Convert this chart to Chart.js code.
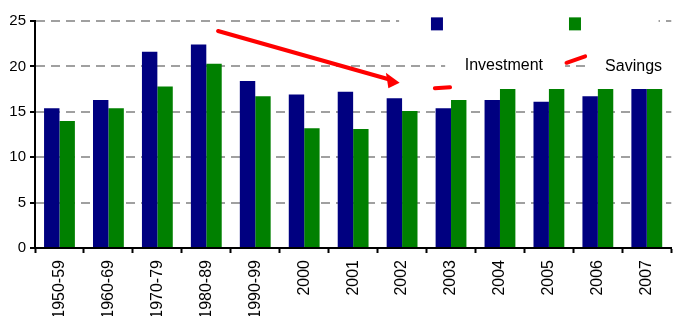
<!DOCTYPE html>
<html>
<head>
<meta charset="utf-8">
<script src="https://cdn.jsdelivr.net/npm/chart.js@4/dist/chart.umd.min.js"></script>
<style>
  html, body { margin: 0; padding: 0; background: #fff; overflow: hidden; }
</style>
</head>
<body>
<canvas id="myChart" width="673" height="316"></canvas>
<script>
var periods = ["1950-59", "1960-69", "1970-79", "1980-89", "1990-99", "2000", "2001", "2002", "2003", "2004", "2005", "2006", "2007"];
var investment = [15.4, 16.3, 21.6, 22.4, 18.4, 16.9, 17.2, 16.5, 15.4, 16.3, 16.1, 16.7, 17.5];
var savings = [14.0, 15.4, 17.8, 20.3, 16.7, 13.2, 13.1, 15.1, 16.3, 17.5, 17.5, 17.5, 17.5];
var yTicks = [0, 5, 10, 15, 20, 25];

// white legend boxes, the red arrow and stray legend pieces drawn over the bars
var notes = {
  id: 'notes',
  afterDatasetsDraw: function(chart) {
    var c = chart.ctx, xs = chart.scales.x, ys = chart.scales.y;
    function px(i) { return xs.getPixelForValue(i); }
    function py(v) { return ys.getPixelForValue(v); }
    function line(x1, y1, x2, y2, w) {
      c.beginPath();
      c.moveTo(px(x1), py(y1));
      c.lineTo(px(x2), py(y2));
      c.lineWidth = w;
      c.stroke();
    }
    c.save();
    c.fillStyle = '#fff';
    c.fillRect(px(6.94), py(26.2), px(12.24) - px(6.94), py(23.1) - py(26.2));
    c.fillRect(px(7.88), py(22.5), px(10.33) - px(7.88), py(17.55) - py(22.5));
    c.fillRect(px(10.76), py(22.5), px(12.6) - px(10.76), py(17.55) - py(22.5));

    c.fillStyle = '#000080';
    c.fillRect(px(7.59), py(25.4), 12, 13);
    c.fillStyle = '#008000';
    c.fillRect(px(10.41), py(25.4), 12, 13);

    c.strokeStyle = '#ff0000';
    c.fillStyle = '#ff0000';
    c.lineCap = 'round';
    line(3.24, 23.9, 6.78, 18.5, 4);
    c.beginPath();
    c.moveTo(px(6.95), py(18.2));
    c.lineTo(px(6.67), py(19.3));
    c.lineTo(px(6.72), py(17.6));
    c.closePath();
    c.fill();
    line(7.67, 17.6, 7.98, 17.7, 4);
    line(10.36, 20.4, 10.74, 21.1, 4);

    c.fillStyle = '#000';
    c.font = '16px "Liberation Sans", Arial, sans-serif';
    c.textAlign = 'center';
    c.textBaseline = 'alphabetic';
    c.fillText('Investment', px(9.08), py(19.6));
    c.fillText('Savings', px(11.73), py(19.45));
    c.restore();
  }
};

var ctx = document.getElementById("myChart");

var myChart = new Chart(ctx, {
  type: 'bar',
  data: {
    labels: periods,
    datasets: [{
      label: 'Investment',
      data: investment,
      backgroundColor: '#000080'
    }, {
      label: 'Savings',
      data: savings,
      backgroundColor: '#008000'
    }]
  },
  options: {
    responsive: false,
    animation: false,
    categoryPercentage: 0.63,
    barPercentage: 1,
    layout: { padding: { top: 21, right: 0, left: 0, bottom: 0 } },
    plugins: {
      legend: { display: false },
      tooltip: { enabled: false }
    },
    scales: {
      x: {
        grid: { drawOnChartArea: false, tickLength: 5, tickColor: '#000', tickWidth: 2 },
        border: { color: '#000', width: 2 },
        ticks: {
          color: '#000',
          font: { family: '"Liberation Sans", Arial, sans-serif', size: 16 },
          minRotation: 90,
          maxRotation: 90,
          padding: 7,
          autoSkip: false
        },
        afterFit: function(s) { s.height = 68; }
      },
      y: {
        min: 0,
        max: 25,
        afterBuildTicks: function(s) { s.ticks = yTicks.map(function(v) { return { value: v }; }); },
        grid: { color: '#a0a0a0', lineWidth: 2, tickLength: 5, tickColor: '#000', tickWidth: 2 },
        border: { color: '#000', width: 2, dash: [9, 6] },
        ticks: {
          color: '#000',
          font: { family: '"Liberation Sans", Arial, sans-serif', size: 15 },
          padding: 4
        },
        afterFit: function(s) { s.width = 35; }
      }
    }
  },
  plugins: [notes]
});
</script>
</body>
</html>
